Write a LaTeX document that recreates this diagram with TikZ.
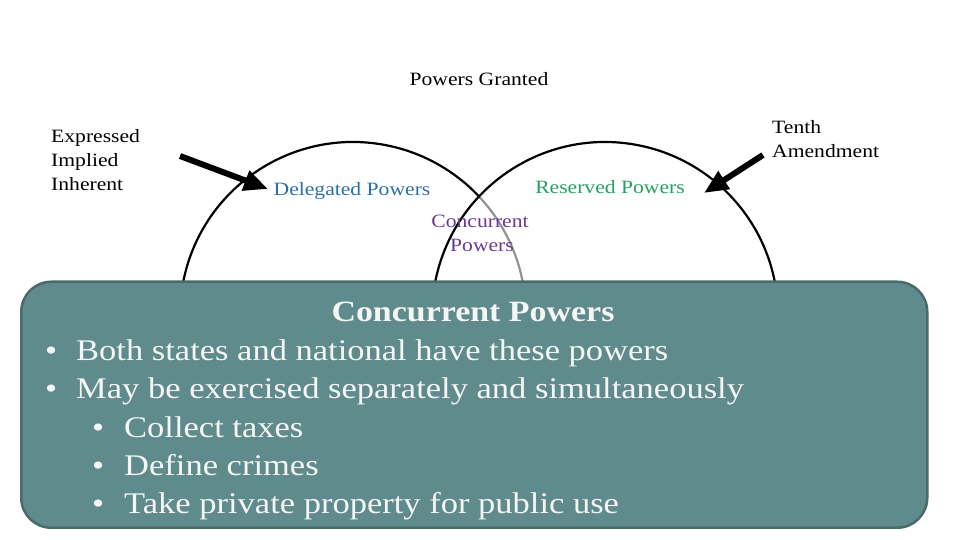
\documentclass[tikz,border=0pt]{standalone}
\usepackage{fontspec}
\setmainfont{Liberation Serif}[FakeStretch=1.15]
\usetikzlibrary{arrows.meta}
\definecolor{boxfill}{RGB}{96,139,140}
\definecolor{boxline}{RGB}{74,106,107}
\definecolor{delblue}{RGB}{40,112,170}
\definecolor{resgreen}{RGB}{38,160,96}
\definecolor{conpurple}{RGB}{104,58,146}
\definecolor{boxtext}{RGB}{245,245,245}
\tikzset{
  small/.style={font=\fontsize{18.8}{22}\selectfont, inner sep=0pt},
  leftlbl/.style={small, anchor=base west},
  ctrlbl/.style={small, anchor=base},
  bigarrow/.style={line width=6pt, -{Triangle[length=24pt,width=20pt]}},
  circ/.style={line width=2.2pt, black},
  greycirc/.style={line width=2.2pt, gray!85},
  infobox/.style={draw=boxline, line width=2.5pt, fill=boxfill, rounded corners=30pt},
  boxline1/.style={font=\fontsize{30}{34}\selectfont, text=boxtext, anchor=base west, inner sep=0pt},
}
\begin{document}
\begin{tikzpicture}[x=1pt,y=1pt]
\useasboundingbox (0,0) rectangle (960,540);
% circles
\draw[circ] (183,257) arc[start angle=169.34, end angle=43.2, radius=173pt];
\draw[greycirc] (479,343.5) arc[start angle=43.2, end angle=10.66, radius=173pt];
\draw[circ] (435,257) arc[start angle=169.34, end angle=10.66, radius=173pt];
% labels
\node[ctrlbl] (granted) at (479,454) {Powers Granted};
\node[leftlbl] (expr) at (51,397) {Expressed};
\node[leftlbl] (impl) at (51,373) {Implied};
\node[leftlbl] (inh) at (51,349) {Inherent};
\node[leftlbl] (tenth) at (772,406) {Tenth};
\node[leftlbl] (amend) at (772,382) {Amendment};
\node[ctrlbl, text=delblue] (deleg) at (352,344) {Delegated Powers};
\node[ctrlbl, text=resgreen] (reserv) at (610,346) {Reserved Powers};
\node[ctrlbl, text=conpurple] (conc1) at (480,312) {Concurrent};
\node[ctrlbl, text=conpurple] (conc2) at (482,288) {Powers};
% arrows
\coordinate (lt) at (180,384);
\coordinate (lh) at (268,351);
\coordinate (rt) at (763,385);
\coordinate (rh) at (704,347);
\draw[bigarrow] (lt) -- (lh);
\draw[bigarrow] (rt) -- (rh);
% box
\node[infobox, minimum width=906pt, minimum height=246pt, anchor=south west] (box) at (20,11) {};
\node[font=\fontsize{29.5}{34}\bfseries\selectfont, text=boxtext, anchor=base, inner sep=0pt] (title) at (473,218) {Concurrent Powers};
\node[boxline1] (b1) at (45,179) {•};
\node[boxline1] (t1) at (76,179) {Both states and national have these powers};
\node[boxline1] (b2) at (45,141) {•};
\node[boxline1] (t2) at (76,141) {May be exercised separately and simultaneously};
\node[boxline1] (b3) at (92,102) {•};
\node[boxline1] (t3) at (124,102) {Collect taxes};
\node[boxline1] (b4) at (92,64) {•};
\node[boxline1] (t4) at (124,64) {Define crimes};
\node[boxline1] (b5) at (92,26) {•};
\node[boxline1] (t5) at (124,26) {Take private property for public use};
\end{tikzpicture}
\end{document}
